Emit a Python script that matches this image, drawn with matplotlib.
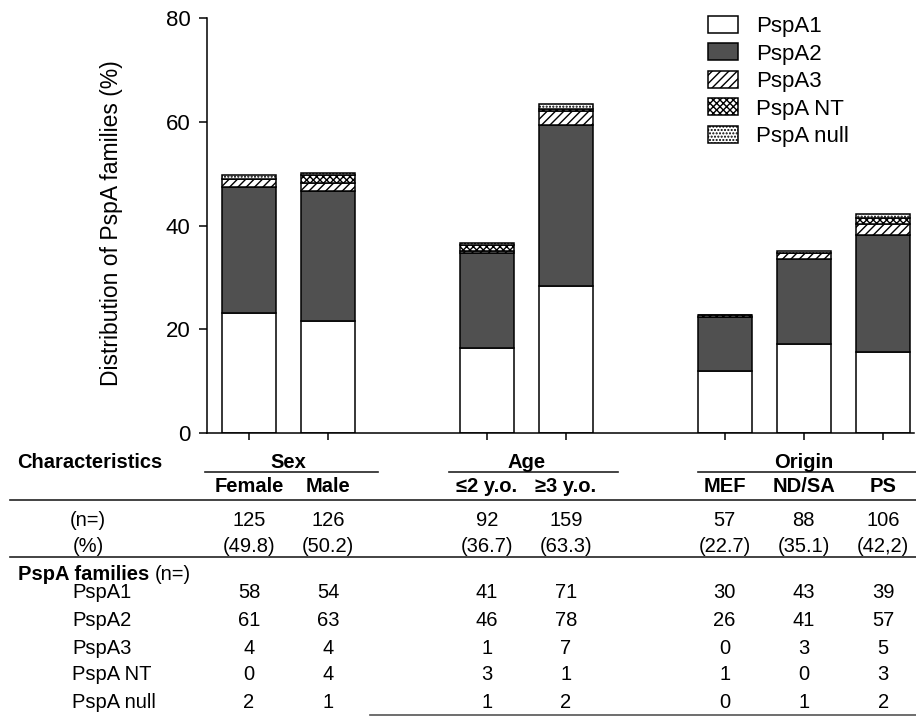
import numpy as np
import matplotlib.pyplot as plt
import matplotlib.transforms as mtransforms
from matplotlib.lines import Line2D

plt.rcParams['font.family'] = ['Liberation Sans', 'DejaVu Sans']
plt.rcParams['hatch.linewidth'] = 1.0

# isolates per subgroup and PspA family counts
groups = ['Female', 'Male', '≤2 y.o.', '≥3 y.o.', 'MEF', 'ND/SA', 'PS']
headers = ['Sex', 'Age', 'Origin']
n_iso = [125, 126, 92, 159, 57, 88, 106]
pct_txt = ['(49.8)', '(50.2)', '(36.7)', '(63.3)', '(22.7)', '(35.1)', '(42,2)']
pspa1 = [58, 54, 41, 71, 30, 43, 39]
pspa2 = [61, 63, 46, 78, 26, 41, 57]
pspa3 = [4, 4, 1, 7, 0, 3, 5]
pspa_nt = [0, 4, 3, 1, 1, 0, 3]
pspa_null = [2, 1, 1, 2, 0, 1, 2]
fam_names = ['PspA1', 'PspA2', 'PspA3', 'PspA NT', 'PspA null']
total = 251

counts = np.array([pspa1, pspa2, pspa3, pspa_nt, pspa_null])
perc = counts / total * 100

xpos = np.array([0, 1, 3, 4, 6, 7, 8])
W, H = 916, 724

fig = plt.figure(figsize=(W / 100, H / 100), dpi=100)
ax = fig.add_axes([207 / W, 1 - 433 / H, (914 - 207) / W, (433 - 18) / H])

styles = [dict(facecolor='white', hatch=None),
          dict(facecolor='#505050', hatch=None),
          dict(facecolor='white', hatch='////'),
          dict(facecolor='white', hatch='xxxxx'),
          dict(facecolor='white', hatch='.....')]

bottom = np.zeros(len(groups))
for i in range(len(fam_names)):
    ax.bar(xpos, perc[i], 0.68, bottom=bottom, edgecolor='black', linewidth=1.1,
           label=fam_names[i], **styles[i])
    bottom += perc[i]

ax.set_xlim(-0.53, 8.39)
ax.set_ylim(0, 80)
ax.set_yticks([0, 20, 40, 60, 80])
ax.set_xticks(xpos)
ax.set_xticklabels([])
ax.tick_params(axis='y', length=6, width=1.1, labelsize=16, pad=6)
ax.tick_params(axis='x', length=5, width=1.1)
for s in ['top', 'right']:
    ax.spines[s].set_visible(False)
for s in ['left', 'bottom']:
    ax.spines[s].set_linewidth(1.1)

fig.text(112 / W, 1 - 223 / H, 'Distribution of PspA families (%)', rotation=90,
         ha='center', va='center', fontsize=16.5)

ax.legend(loc='upper left', bbox_to_anchor=(708 / W, 1 - 16 / H),
          bbox_transform=fig.transFigure, frameon=False, fontsize=16,
          borderpad=0, borderaxespad=0, handlelength=1.35, handleheight=0.8,
          handletextpad=0.8, labelspacing=0.28)

# table underneath the bars
tr = mtransforms.blended_transform_factory(ax.transData, fig.transFigure)


def fy(px):
    return 1 - px / H


def px2x(px):
    return (px - 249) / 79.3


fs = 14.5
fig.text(17 / W, fy(463), 'Characteristics', fontsize=fs, weight='bold', va='center')

spans = [(0, 1), (3, 4), (6, 8)]
under = [(205, 378), (449, 618), (698, 916)]
for h, (a, b), (l, r) in zip(headers, spans, under):
    fig.text((xpos[np.where(xpos == a)[0][0]] + xpos[np.where(xpos == b)[0][0]]) / 2,
             fy(462), h, transform=tr, ha='center', va='center', fontsize=fs, weight='bold')
    fig.add_artist(Line2D([px2x(l), px2x(r)], [fy(472), fy(472)], transform=tr,
                          color='#222222', lw=1.2))

for x, g in zip(xpos, groups):
    fig.text(x, fy(487), g, transform=tr, ha='center', va='center', fontsize=fs, weight='bold')

for yl in [500, 557]:
    fig.add_artist(Line2D([10 / W, 1], [fy(yl), fy(yl)], transform=fig.transFigure,
                          color='#222222', lw=1.2))
fig.add_artist(Line2D([370 / W, 1], [fy(715), fy(715)], transform=fig.transFigure,
                      color='#555555', lw=1.2))

fig.text(88 / W, fy(520), '(n=)', ha='center', va='center', fontsize=fs)
fig.text(88 / W, fy(547), '(%)', ha='center', va='center', fontsize=fs)
for x, n, p in zip(xpos, n_iso, pct_txt):
    fig.text(x, fy(520), str(n), transform=tr, ha='center', va='center', fontsize=fs)
    fig.text(x, fy(547), p, transform=tr, ha='center', va='center', fontsize=fs)

t = fig.text(18 / W, fy(575), 'PspA families ', fontsize=fs, weight='bold', va='center')
fig.canvas.draw()
bb = t.get_window_extent()
fig.text(bb.x1 / W, fy(575), '(n=)', fontsize=fs, va='center')

row_y = [593, 621, 648, 675, 702]
for name, row, yy in zip(fam_names, counts, row_y):
    fig.text(72 / W, fy(yy), name, fontsize=fs, va='center')
    for x, v in zip(xpos, row):
        fig.text(x, fy(yy), str(v), transform=tr, ha='center', va='center', fontsize=fs)

fig.savefig('out.png', dpi=100)
